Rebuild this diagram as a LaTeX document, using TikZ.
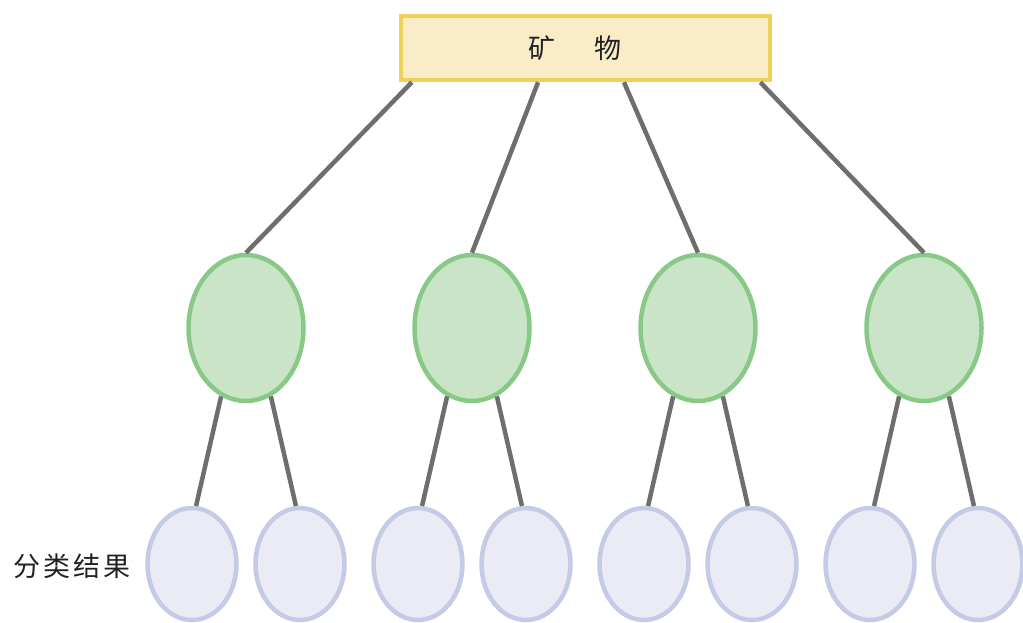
\documentclass[tikz,border=0pt]{standalone}
\usepackage{fontspec}
\newfontfamily\cjk{Noto Sans CJK SC}
\usetikzlibrary{shapes.geometric,calc}
\definecolor{boxline}{HTML}{F2D15A}
\definecolor{boxfill}{HTML}{F9ECC6}
\definecolor{gline}{HTML}{88C987}
\definecolor{gfill}{HTML}{C9E4C6}
\definecolor{bline}{HTML}{C5CAE6}
\definecolor{bfill}{HTML}{EBEBF6}
\definecolor{edge}{HTML}{6E6E6E}
\definecolor{txt}{HTML}{222222}
\tikzset{
  rootbox/.style={draw=boxline,fill=boxfill,line width=4.5pt,minimum width=369pt,minimum height=64pt,inner sep=0pt},
  roottext/.style={font=\cjk\fontsize{27}{27}\selectfont,text=txt,inner sep=0pt},
  midnode/.style={ellipse,draw=gline,fill=gfill,line width=4.5pt,minimum width=115pt,minimum height=146pt,inner sep=0pt},
  leafnode/.style={ellipse,draw=bline,fill=bfill,line width=4.5pt,minimum width=89pt,minimum height=112pt,inner sep=0pt},
  conn/.style={draw=edge,line width=4.5pt},
  lbl/.style={font=\cjk\fontsize{27}{27}\selectfont,text=txt,inner sep=0pt}
}
\begin{document}
\begin{tikzpicture}[x=1pt,y=-1pt]
\useasboundingbox (0,0) rectangle (1023,622);
\node[rootbox] (root) at (585.5,48) {};
\node[roottext] (rtxt) at ($(root.center)+(-10.5,0)$) {矿\hspace{39pt}物};
\foreach \i/\x in {1/246,2/472,3/698,4/924}{
  \node[midnode] (g\i) at (\x,328) {};
}
\foreach \i/\x in {1/192,2/300,3/418,4/526,5/644,6/752,7/870,8/978}{
  \node[leafnode] (b\i) at (\x,564) {};
}
\node[lbl] (cls) at (72,566) {分\hspace{3pt}类\hspace{3pt}结\hspace{3pt}果};
% connectors
\draw[conn] ($(root.south west)!0.035!(root.south east)$) -- (g1.north);
\draw[conn] ($(root.south west)!0.373!(root.south east)$) -- (g2.north);
\draw[conn] ($(root.south west)!0.603!(root.south east)$) -- (g3.north);
\draw[conn] ($(root.south west)!0.968!(root.south east)$) -- (g4.north);
\draw[conn] (g1.250) -- (b1.86);
\draw[conn] (g1.290) -- (b2.94);
\draw[conn] (g2.250) -- (b3.86);
\draw[conn] (g2.290) -- (b4.94);
\draw[conn] (g3.250) -- (b5.86);
\draw[conn] (g3.290) -- (b6.94);
\draw[conn] (g4.250) -- (b7.86);
\draw[conn] (g4.290) -- (b8.94);
\end{tikzpicture}
\end{document}
